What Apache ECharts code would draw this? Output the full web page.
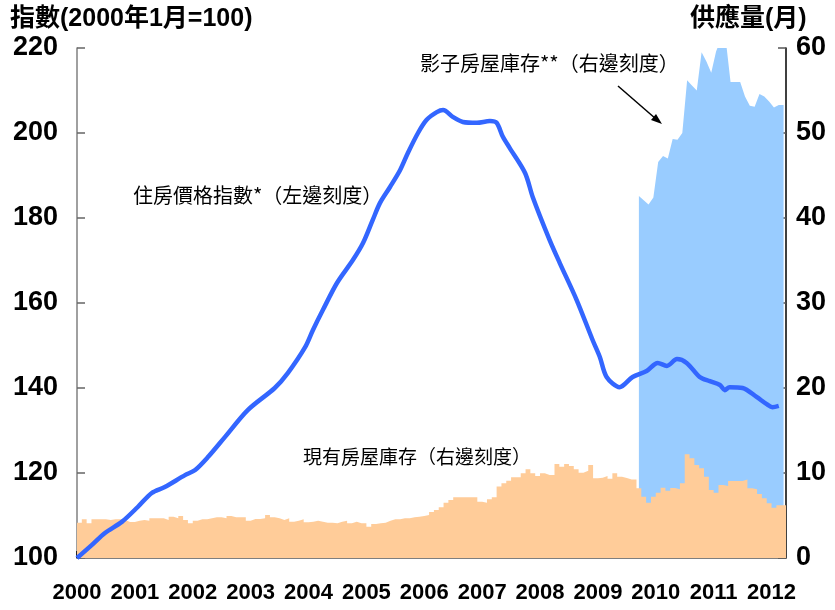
<!DOCTYPE html>
<html lang="zh-Hant">
<head>
    <meta charset="UTF-8">
    <title>住房價格指數與房屋庫存</title>
    <script src="https://cdn.jsdelivr.net/npm/echarts@6/dist/echarts.min.js"></script>
    <style>
        * { margin: 0; padding: 0; box-sizing: border-box; }
        body { background: #fff; }
        #chart { width: 835px; height: 610px; }
    </style>
</head>
<body>
    <div id="chart"></div>

    <script>
        // 年份刻度（每 12 個月一個）
        const yearLabels = ['2000', '2001', '2002', '2003', '2004', '2005', '2006',
                            '2007', '2008', '2009', '2010', '2011', '2012'];

        // 住房價格指數：月份（自 2000 年 1 月起）與數值
        const priceMonth = [0, 3.1, 5.8, 9.3, 12.6, 15.5, 18.2, 22.4, 24.5, 27.2, 30.7, 35.4,
            41.0, 43.7, 47.3, 48.9, 51.0, 53.9, 57.2, 59.3, 61.3, 62.8, 64.9, 67.0, 68.6,
            70.7, 72.5, 74.6, 75.9, 77.9, 80.0, 82.9, 85.6, 87.0, 88.3, 89.7, 92.9, 94.5,
            98.0, 100.1, 103.6, 106.9, 108.4, 109.8, 112.5, 115.2, 118.1, 120.4, 122.3,
            124.4, 126.4, 129.1, 131.2, 133.3, 134.3, 135.3, 138.0, 140.9, 143.0, 144.2, 145.5];
        const priceIndex = [100, 103.1, 105.9, 108.5, 112.0, 115.3, 116.7, 119.5, 120.7, 123.8,
            128.5, 134.8, 140.0, 143.5, 149.6, 153.6, 158.4, 164.7, 170.1, 174.1, 179.5, 183.5,
            187.3, 191.3, 195.3, 200.0, 203.1, 204.9, 205.4, 203.8, 202.6, 202.4, 202.8, 202.4,
            199.1, 196.5, 190.6, 184.9, 174.8, 169.4, 160.7, 151.3, 147.3, 142.6, 140.2, 142.6,
            144.0, 145.9, 145.2, 146.8, 145.9, 142.6, 141.6, 140.7, 139.5, 140.2, 140.0, 137.9,
            136.2, 135.5, 135.8];

        // 現有房屋庫存（月），2000 年 1 月至 2012 年 3 月
        const existingStock = [
            4.16, 4.55, 4.08, 4.55, 4.55, 4.55, 4.47, 4.55, 4.55, 4.47, 4.24, 4.24,
            4.39, 4.47, 4.39, 4.67, 4.67, 4.67, 4.47, 4.86, 4.67, 4.94, 4.47, 4.08,
            4.39, 4.55, 4.55, 4.67, 4.78, 4.78, 4.67, 4.94, 4.78, 4.78, 4.78, 4.39,
            4.59, 4.59, 4.67, 5.06, 4.78, 4.67, 4.47, 4.67, 4.27, 4.39, 4.55, 4.20,
            4.27, 4.39, 4.27, 4.16, 4.16, 4.08, 4.27, 4.39, 4.08, 4.27, 4.08, 4.08,
            3.69, 4.00, 4.08, 4.16, 4.39, 4.55, 4.55, 4.67, 4.67, 4.78, 4.86, 4.94,
            5.06, 5.40, 5.65, 5.96, 6.51, 6.82, 7.14, 7.14, 7.14, 7.14, 7.14, 6.63,
            6.51, 6.90, 7.14, 8.40, 8.78, 9.10, 9.49, 9.49, 9.96, 10.43, 9.96, 9.65,
            9.96, 9.76, 9.76, 11.06, 10.75, 11.06, 10.82, 10.43, 10.04, 10.27, 10.94, 9.37,
            9.45, 9.65, 9.33, 9.96, 9.57, 9.41, 9.25, 9.25, 8.20, 7.20, 6.51, 7.20,
            7.69, 8.27, 7.92, 8.23, 8.08, 8.78, 12.20, 11.73, 10.94, 10.55, 9.57, 8.00,
            7.69, 8.59, 8.47, 9.06, 9.06, 9.06, 9.25, 8.20, 8.08, 7.53, 7.02, 6.43,
            5.92, 6.20, 6.20];

        // 影子房屋庫存（月），自 2009 年 9 月中起
        const shadowStartMonth = 116.5;
        const shadowStock = [42.6, 42.1, 41.6, 42.4, 46.6, 47.3, 47.0, 49.3, 49.2, 50.0,
            56.2, 55.6, 55.0, 59.5, 58.4, 57.1, 59.6, 61.0, 61.0, 56.0, 56.0, 56.0, 54.3,
            53.2, 53.1, 54.6, 54.3, 53.7, 53.0, 53.3, 53.3];

        const latinFont = "'Liberation Sans', Arial, sans-serif";
        const titleFont = "'Liberation Sans', 'Noto Sans CJK TC', sans-serif";
        const cjkFont = "'Noto Sans CJK TC', 'Noto Sans CJK SC', sans-serif";

        const priceData = priceMonth.map((m, i) => [m, priceIndex[i]]);
        const existingData = existingStock.map((v, i) => [i, v]);
        existingData.push([existingStock.length, existingStock[existingStock.length - 1]]);
        const shadowData = shadowStock.map((v, i) => [shadowStartMonth + i, v]);

        const chart = echarts.init(document.getElementById('chart'));
        const option = {
            animation: false,
            grid: { left: 77, right: 49, top: 48, bottom: 52 },
            xAxis: {
                type: 'value',
                min: 0,
                max: existingStock.length,
                interval: 12,
                splitLine: { show: false },
                axisLine: { lineStyle: { color: '#555', width: 1.5 } },
                axisTick: { inside: true, length: 7, lineStyle: { color: '#000', width: 1.5 } },
                axisLabel: {
                    margin: 24,
                    showMaxLabel: false,
                    color: '#000',
                    fontFamily: latinFont,
                    fontWeight: 'bold',
                    fontSize: 22,
                    formatter: v => (v % 12 === 0 ? yearLabels[v / 12] : '')
                }
            },
            yAxis: [
                {
                    type: 'value',
                    min: 100,
                    max: 220,
                    interval: 20,
                    splitLine: { show: false },
                    axisLine: { show: true, lineStyle: { color: '#808080', width: 1.5 } },
                    axisTick: { show: true, inside: true, length: 8, lineStyle: { color: '#666', width: 1.5 } },
                    axisLabel: {
                        margin: 19,
                        color: '#000',
                        fontFamily: latinFont,
                        fontWeight: 'bold',
                        fontSize: 27
                    }
                },
                {
                    type: 'value',
                    min: 0,
                    max: 60,
                    interval: 10,
                    position: 'right',
                    splitLine: { show: false },
                    axisLine: { show: true, lineStyle: { color: '#000', width: 1.5 } },
                    axisTick: { show: true, inside: true, length: 8, lineStyle: { color: '#555', width: 1.5 } },
                    axisLabel: {
                        margin: 10,
                        color: '#000',
                        fontFamily: latinFont,
                        fontWeight: 'bold',
                        fontSize: 27
                    }
                }
            ],
            series: [
                {
                    name: '影子房屋庫存',
                    type: 'line',
                    yAxisIndex: 1,
                    data: shadowData,
                    symbol: 'none',
                    lineStyle: { width: 0 },
                    areaStyle: { color: '#99ccff', opacity: 1 },
                    z: 1
                },
                {
                    name: '現有房屋庫存',
                    type: 'line',
                    yAxisIndex: 1,
                    step: 'end',
                    data: existingData,
                    symbol: 'none',
                    lineStyle: { width: 0 },
                    areaStyle: { color: '#ffcc99', opacity: 1 },
                    z: 2
                },
                {
                    name: '住房價格指數',
                    type: 'line',
                    yAxisIndex: 0,
                    data: priceData,
                    smooth: 0.3,
                    symbol: 'none',
                    lineStyle: { color: '#3366ff', width: 4.5 },
                    z: 3
                }
            ],
            graphic: [
                {
                    type: 'text', left: 10, top: 7,
                    style: { text: '指數(2000年1月=100)', fill: '#000', font: 'bold 25px ' + titleFont }
                },
                {
                    type: 'text', left: 690, top: 7,
                    style: { text: '供應量(月)', fill: '#000', font: 'bold 25px ' + titleFont }
                },
                {
                    type: 'text', left: 133, top: 185,
                    style: { text: '住房價格指數*（左邊刻度）', fill: '#000', font: '20px ' + cjkFont }
                },
                {
                    type: 'text', left: 420, top: 53,
                    style: { text: '影子房屋庫存**（右邊刻度）', fill: '#000', font: '20px ' + cjkFont }
                },
                {
                    type: 'text', left: 303, top: 447,
                    style: { text: '現有房屋庫存（右邊刻度）', fill: '#000', font: '19px ' + cjkFont }
                },
                {
                    type: 'line',
                    shape: { x1: 618, y1: 86, x2: 656, y2: 119 },
                    style: { stroke: '#000', lineWidth: 1.5 }
                },
                {
                    type: 'polygon',
                    shape: { points: [[662, 124], [651, 120], [656, 114]] },
                    style: { fill: '#000' }
                }
            ]
        };
        chart.setOption(option);
    </script>
</body>
</html>
